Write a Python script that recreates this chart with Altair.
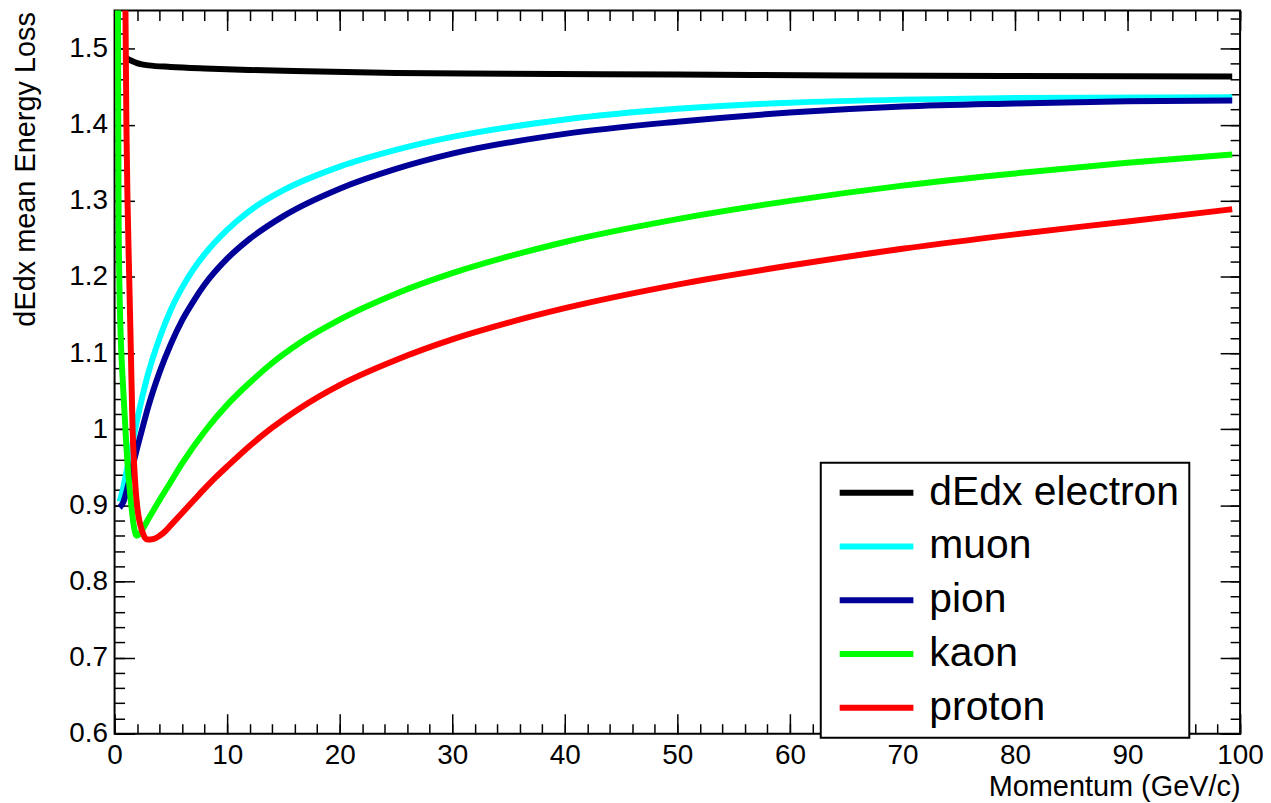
import altair as alt
import pandas as pd

FONT = "Liberation Sans"

# ---- data ----
names = ["dEdx electron", "muon", "pion", "kaon", "proton"]
colors = ["#000000", "#00ffff", "#000099", "#00ff00", "#ff0000"]

electron_p = [1.0, 1.5, 2, 3, 5, 8, 12, 16, 25, 35, 50, 65, 80, 99.3]
electron_v = [1.488, 1.484, 1.481, 1.478, 1.476, 1.474, 1.472, 1.4705, 1.468, 1.467, 1.466, 1.4647, 1.464, 1.4635]

muon_p = [0.45, 0.8, 1.0, 1.5, 2, 2.5, 3, 4, 5, 6, 7, 8, 10, 12, 15, 20, 25, 30, 40, 50, 60, 70, 80, 99.3]
muon_v = [0.905, 0.925, 0.94, 0.975, 1.012, 1.045, 1.074, 1.12, 1.157, 1.186, 1.21, 1.23, 1.262, 1.287,
          1.314, 1.345, 1.367, 1.384, 1.407, 1.421, 1.429, 1.433, 1.435, 1.436]

pion_p = [0.45, 0.8, 1.0, 1.5, 2, 2.5, 3, 4, 5, 6, 7, 8, 10, 12, 15, 20, 25, 30, 40, 50, 60, 70, 80, 90, 99.3]
pion_v = [0.897, 0.905, 0.915, 0.945, 0.975, 1.003, 1.03, 1.075, 1.112, 1.143, 1.168, 1.19, 1.224, 1.25,
          1.28, 1.316, 1.342, 1.362, 1.388, 1.404, 1.416, 1.424, 1.428, 1.431, 1.432]

kaon_p = [0.30, 0.33, 0.36, 0.42, 0.55, 0.74, 1.05, 1.5, 1.7, 1.95, 2.2, 2.5, 3, 4, 5, 6, 8, 10, 12, 14,
          16.4, 20, 25, 30, 35, 40, 50, 60, 70, 80, 90, 99.3]
kaon_v = [1.58, 1.40, 1.28, 1.20, 1.12, 1.06, 0.977, 0.898, 0.874, 0.86, 0.862, 0.869, 0.882, 0.907, 0.931,
          0.955, 0.997, 1.032, 1.061, 1.087, 1.113, 1.144, 1.178, 1.205, 1.227, 1.246, 1.276, 1.300, 1.320,
          1.336, 1.350, 1.361]

proton_p = [0.95, 1.05, 1.15, 1.3, 1.45, 1.6, 1.75, 2.0, 2.5, 2.9, 3.5, 4, 4.5, 5, 6, 7, 8, 9, 10, 12, 14,
            16.4, 20, 25, 30, 35, 40, 50, 60, 70, 80, 90, 99.3]
proton_v = [1.58, 1.40, 1.30, 1.20, 1.10, 1.00, 0.95, 0.90, 0.864, 0.855, 0.856, 0.860, 0.866, 0.874, 0.89,
            0.906, 0.922, 0.937, 0.951, 0.978, 1.002, 1.027, 1.058, 1.091, 1.118, 1.14, 1.159, 1.19, 1.215,
            1.237, 1.256, 1.273, 1.289]

x_major = [0, 10, 20, 30, 40, 50, 60, 70, 80, 90, 100]
x_minor = [i * 2 for i in range(51)]
y_major = [0.6, 0.7, 0.8, 0.9, 1.0, 1.1, 1.2, 1.3, 1.4, 1.5]
y_minor = [round(0.6 + 0.02 * i, 2) for i in range(48)]

series = [
    (names[0], electron_p, electron_v),
    (names[1], muon_p, muon_v),
    (names[2], pion_p, pion_v),
    (names[3], kaon_p, kaon_v),
    (names[4], proton_p, proton_v),
]
rows = []
for name, ps, vs in series:
    for p, v in zip(ps, vs):
        rows.append({"p": p, "v": v, "particle": name})
df = pd.DataFrame(rows)

W, H = 1130, 726
xscale = alt.Scale(domain=[0, 100], nice=False, zero=False)
yscale = alt.Scale(domain=[0.6, 1.55], nice=False, zero=False)

lines = alt.Chart(df).mark_line(strokeWidth=6, clip=True, interpolate="monotone").encode(
    x=alt.X("p:Q", scale=xscale, axis=alt.Axis(
        orient="bottom", values=x_major, ticks=False, domain=False, grid=False,
        labelFontSize=28, labelFont=FONT, labelColor="black", labelPadding=8,
        labelFlush=False, labelOverlap=False, format="d",
        title="Momentum (GeV/c)", titleFont=FONT, titleFontSize=29, titleFontWeight="normal",
        titleColor="black", titleAlign="right", titleX=W, titleY=62, titleBaseline="alphabetic")),
    y=alt.Y("v:Q", scale=yscale, axis=alt.Axis(
        orient="left", values=y_major, ticks=False, domain=False, grid=False,
        labelFontSize=28, labelFont=FONT, labelColor="black", labelPadding=7,
        labelFlush=False, labelOverlap=False, format="~g",
        title="dEdx mean Energy Loss", titleFont=FONT, titleFontSize=29, titleFontWeight="normal",
        titleColor="black", titleAngle=270, titleAlign="right", titleX=-80, titleY=1,
        titleBaseline="alphabetic")),
    color=alt.Color("particle:N", scale=alt.Scale(domain=names, range=colors), legend=alt.Legend(
        orient="none", legendX=709, legendY=454, title=None,
        symbolType="stroke", symbolSize=5476, symbolStrokeWidth=6, clipHeight=40,
        labelFontSize=41, labelFont=FONT, labelColor="black", labelLimit=700, labelOffset=13,
        symbolOffset=6, padding=10, rowPadding=13,
        fillColor="white", strokeColor="black")),
)


def tick_layer(xvals, yvals, size, xo, yo):
    return alt.Chart(df).mark_point(opacity=0).encode(
        x=alt.X("p:Q", scale=xscale, axis=alt.Axis(
            orient=xo, offset=-H, values=xvals, tickSize=size, tickColor="black", tickWidth=1.5,
            labels=False, domain=False, grid=False, title=None)),
        y=alt.Y("v:Q", scale=yscale, axis=alt.Axis(
            orient=yo, offset=-W, values=yvals, tickSize=size, tickColor="black", tickWidth=1.5,
            labels=False, domain=False, grid=False, title=None)),
    )


chart = alt.layer(
    lines,
    tick_layer(x_major, y_major, 20, "top", "right"),
    tick_layer(x_minor, y_minor, 10, "top", "right"),
    tick_layer(x_major, y_major, 20, "bottom", "left"),
    tick_layer(x_minor, y_minor, 10, "bottom", "left"),
).resolve_axis(x="independent", y="independent").properties(
    width=W, height=H,
    autosize=alt.AutoSizeParams(type="none"),
    padding={"left": 107, "top": 1, "right": 23, "bottom": 70},
    background="white",
).configure_view(stroke="black", strokeWidth=2).configure_legend(strokeWidth=2)

chart.save("out.html", embed_options={"renderer": "svg", "actions": False})
